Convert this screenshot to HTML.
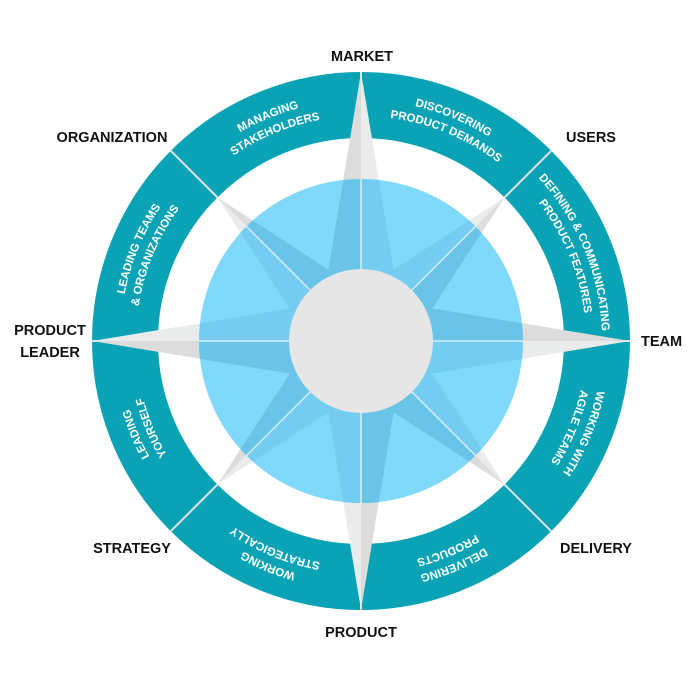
<!DOCTYPE html>
<html><head><meta charset="utf-8"><style>
html,body{margin:0;padding:0;background:#fff;}
svg{display:block;}
.lbl{font-family:"Liberation Sans",sans-serif;font-weight:bold;font-size:14.5px;fill:#111;}
.rt{font-family:"Liberation Sans",sans-serif;font-weight:bold;font-size:11.5px;fill:#fff;}
</style></head><body>
<svg width="700" height="700" viewBox="0 0 700 700" xmlns="http://www.w3.org/2000/svg">
<defs>
<path id="a1" d="M268.8 118.3 A241 241 0 0 1 453.2 118.3"/>
<path id="a2" d="M274.9 133.1 A225 225 0 0 1 447.1 133.1"/>
<clipPath id="bc"><circle cx="361" cy="341" r="162"/></clipPath>
</defs>
<circle cx="361" cy="341" r="236" fill="none" stroke="#0aa3b6" stroke-width="66"/>
<g stroke="#dfe6e8" stroke-width="2">
<line x1="361" y1="72" x2="361" y2="138"/>
<line x1="361" y1="544" x2="361" y2="610"/>
<line x1="92" y1="341" x2="158" y2="341"/>
<line x1="564" y1="341" x2="630" y2="341"/>
<line x1="170.8" y1="150.8" x2="217.5" y2="197.5"/>
<line x1="551.2" y1="150.8" x2="504.5" y2="197.5"/>
<line x1="170.8" y1="531.2" x2="217.5" y2="484.5"/>
<line x1="551.2" y1="531.2" x2="504.5" y2="484.5"/>
</g>
<g>
<polygon fill="#eaecec" points="504.5,197.5 361,291 361,341"/>
<polygon fill="#dcdcdc" points="504.5,197.5 411,341 361,341"/>
<polygon fill="#eaecec" points="504.5,484.5 411,341 361,341"/>
<polygon fill="#dcdcdc" points="504.5,484.5 361,391 361,341"/>
<polygon fill="#eaecec" points="217.5,484.5 361,391 361,341"/>
<polygon fill="#dcdcdc" points="217.5,484.5 311,341 361,341"/>
<polygon fill="#eaecec" points="217.5,197.5 311,341 361,341"/>
<polygon fill="#dcdcdc" points="217.5,197.5 361,291 361,341"/>
<polygon fill="#dcdcdc" points="361,72 323,303 361,341"/>
<polygon fill="#eaecec" points="361,72 399,303 361,341"/>
<polygon fill="#dcdcdc" points="630,341 399,303 361,341"/>
<polygon fill="#eaecec" points="630,341 399,379 361,341"/>
<polygon fill="#dcdcdc" points="361,610 399,379 361,341"/>
<polygon fill="#eaecec" points="361,610 323,379 361,341"/>
<polygon fill="#dcdcdc" points="92,341 323,379 361,341"/>
<polygon fill="#eaecec" points="92,341 323,303 361,341"/>
</g>
<circle cx="361" cy="341" r="162" fill="#80d8fb"/>
<g clip-path="url(#bc)">
<polygon fill="#74cdf1" points="504.5,197.5 361,291 361,341"/>
<polygon fill="#6ac4e8" points="504.5,197.5 411,341 361,341"/>
<polygon fill="#74cdf1" points="504.5,484.5 411,341 361,341"/>
<polygon fill="#6ac4e8" points="504.5,484.5 361,391 361,341"/>
<polygon fill="#74cdf1" points="217.5,484.5 361,391 361,341"/>
<polygon fill="#6ac4e8" points="217.5,484.5 311,341 361,341"/>
<polygon fill="#74cdf1" points="217.5,197.5 311,341 361,341"/>
<polygon fill="#6ac4e8" points="217.5,197.5 361,291 361,341"/>
<polygon fill="#6ac4e8" points="361,72 323,303 361,341"/>
<polygon fill="#74cdf1" points="361,72 399,303 361,341"/>
<polygon fill="#6ac4e8" points="630,341 399,303 361,341"/>
<polygon fill="#74cdf1" points="630,341 399,379 361,341"/>
<polygon fill="#6ac4e8" points="361,610 399,379 361,341"/>
<polygon fill="#74cdf1" points="361,610 323,379 361,341"/>
<polygon fill="#6ac4e8" points="92,341 323,379 361,341"/>
<polygon fill="#74cdf1" points="92,341 323,303 361,341"/>
</g>
<g stroke="#d8eef8" stroke-width="1.5">
<line x1="361" y1="179" x2="361" y2="503"/>
<line x1="199" y1="341" x2="523" y2="341"/>
<line x1="246.4" y1="226.4" x2="475.6" y2="455.6"/>
<line x1="475.6" y1="226.4" x2="246.4" y2="455.6"/>
</g>
<circle cx="361" cy="341" r="72" fill="#e6e6e6"/>
<g transform="rotate(-22.5 361 341)"><text class="rt" text-anchor="middle"><textPath href="#a1" startOffset="50%">MANAGING</textPath></text><text class="rt" text-anchor="middle"><textPath href="#a2" startOffset="50%">STAKEHOLDERS</textPath></text></g>
<g transform="rotate(22.5 361 341)"><text class="rt" text-anchor="middle"><textPath href="#a1" startOffset="50%">DISCOVERING</textPath></text><text class="rt" text-anchor="middle"><textPath href="#a2" startOffset="50%">PRODUCT DEMANDS</textPath></text></g>
<g transform="rotate(67.5 361 341)"><text class="rt" text-anchor="middle"><textPath href="#a1" startOffset="50%">DEFINING &amp; COMMUNICATING</textPath></text><text class="rt" text-anchor="middle"><textPath href="#a2" startOffset="50%">PRODUCT FEATURES</textPath></text></g>
<g transform="rotate(112.5 361 341)"><text class="rt" text-anchor="middle"><textPath href="#a1" startOffset="50%">WORKING WITH</textPath></text><text class="rt" text-anchor="middle"><textPath href="#a2" startOffset="50%">AGILE TEAMS</textPath></text></g>
<g transform="rotate(157.5 361 341)"><text class="rt" text-anchor="middle"><textPath href="#a1" startOffset="50%">DELIVERING</textPath></text><text class="rt" text-anchor="middle"><textPath href="#a2" startOffset="50%">PRODUCTS</textPath></text></g>
<g transform="rotate(202.5 361 341)"><text class="rt" text-anchor="middle"><textPath href="#a1" startOffset="50%">WORKING</textPath></text><text class="rt" text-anchor="middle"><textPath href="#a2" startOffset="50%">STRATEGICALLY</textPath></text></g>
<g transform="rotate(247.5 361 341)"><text class="rt" text-anchor="middle"><textPath href="#a1" startOffset="50%">LEADING</textPath></text><text class="rt" text-anchor="middle"><textPath href="#a2" startOffset="50%">YOURSELF</textPath></text></g>
<g transform="rotate(292.5 361 341)"><text class="rt" text-anchor="middle"><textPath href="#a1" startOffset="50%">LEADING TEAMS</textPath></text><text class="rt" text-anchor="middle"><textPath href="#a2" startOffset="50%">&amp; ORGANIZATIONS</textPath></text></g>
<text class="lbl" x="362" y="61" text-anchor="middle">MARKET</text>
<text class="lbl" x="591" y="142" text-anchor="middle">USERS</text>
<text class="lbl" x="641" y="346">TEAM</text>
<text class="lbl" x="596" y="553" text-anchor="middle">DELIVERY</text>
<text class="lbl" x="361" y="637" text-anchor="middle">PRODUCT</text>
<text class="lbl" x="132" y="553" text-anchor="middle">STRATEGY</text>
<text class="lbl" x="50" y="335" text-anchor="middle">PRODUCT</text>
<text class="lbl" x="50" y="357" text-anchor="middle">LEADER</text>
<text class="lbl" x="112" y="142" text-anchor="middle">ORGANIZATION</text>
</svg>
</body></html>
